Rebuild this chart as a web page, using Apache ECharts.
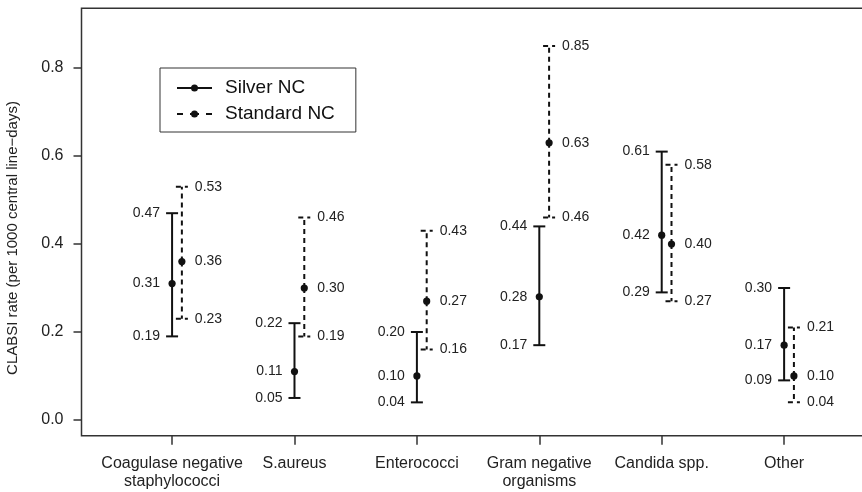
<!DOCTYPE html>
<html>
<head>
<meta charset="utf-8">
<script src="https://cdn.jsdelivr.net/npm/echarts@6/dist/echarts.min.js"></script>
<style>
html, body { margin: 0; padding: 0; background: #fff; }
#chart { width: 862px; height: 492px; }
</style>
</head>
<body>
<div id="chart"></div>
<script>
var categories = ['Coagulase negative\nstaphylococci', 'S.aureus', 'Enterococci', 'Gram negative\norganisms', 'Candida spp.', 'Other'];
var silverMean = [0.31, 0.11, 0.10, 0.28, 0.42, 0.17];
var silverLow = [0.19, 0.05, 0.04, 0.17, 0.29, 0.09];
var silverHigh = [0.47, 0.22, 0.20, 0.44, 0.61, 0.30];
var standardMean = [0.36, 0.30, 0.27, 0.63, 0.40, 0.10];
var standardLow = [0.23, 0.19, 0.16, 0.46, 0.27, 0.04];
var standardHigh = [0.53, 0.46, 0.43, 0.85, 0.58, 0.21];
var yTicks = [0, 0.2, 0.4, 0.6, 0.8];
var xTicks = [1, 2, 3, 4, 5, 6];

var offset = 0.08;
var ink = '#111';

function rows(mean, low, high, shift) {
    var out = [];
    for (var i = 0; i < mean.length; i++) {
        out.push([i + 1 + shift, mean[i], low[i], high[i]]);
    }
    return out;
}

function makeRender(dashed, labelSide) {
    return function (params, api) {
        var x = api.value(0);
        var m = api.coord([x, api.value(1)]);
        var lo = api.coord([x, api.value(2)]);
        var hi = api.coord([x, api.value(3)]);
        var st = { stroke: ink, lineWidth: 2, lineDash: dashed ? [5, 4] : null };
        var kids = [
            { type: 'line', shape: { x1: m[0], y1: m[1], x2: hi[0], y2: hi[1] }, style: st },
            { type: 'line', shape: { x1: m[0], y1: m[1], x2: lo[0], y2: lo[1] }, style: st },
            { type: 'line', shape: { x1: hi[0] - 6, y1: hi[1], x2: hi[0] + 6, y2: hi[1] }, style: st },
            { type: 'line', shape: { x1: lo[0] - 6, y1: lo[1], x2: lo[0] + 6, y2: lo[1] }, style: st },
            { type: 'circle', shape: { cx: m[0], cy: m[1], r: 3.6 }, style: { fill: ink } }
        ];
        var vals = [api.value(1), api.value(2), api.value(3)];
        var pts = [m, lo, hi];
        for (var k = 0; k < 3; k++) {
            kids.push({
                type: 'text',
                style: {
                    text: vals[k].toFixed(2),
                    x: pts[k][0] + (labelSide < 0 ? -12 : 13),
                    y: pts[k][1],
                    align: labelSide < 0 ? 'right' : 'left',
                    verticalAlign: 'middle',
                    fill: '#222',
                    font: '14px "Liberation Sans", Arial, sans-serif'
                }
            });
        }
        return { type: 'group', children: kids };
    };
}

var chart = echarts.init(document.getElementById('chart'));
var option = {
    animation: false,
    backgroundColor: '#fff',
    textStyle: { fontFamily: '"Liberation Sans", Arial, sans-serif' },
    grid: {
        left: 81.5, top: 8.2, right: -12.7, bottom: 56.2,
        containLabel: false,
        outerBoundsMode: 'none',
        show: true, borderColor: '#333', borderWidth: 1.5, backgroundColor: 'transparent'
    },
    legend: {
        orient: 'vertical',
        left: 160, top: 68,
        borderColor: '#333', borderWidth: 1,
        padding: [10, 21, 8, 17],
        itemGap: 6,
        itemWidth: 35, itemHeight: 7,
        textStyle: { fontSize: 19, lineHeight: 20, color: '#111', padding: [0, 0, 0, 8] },
        data: [
            { name: 'Silver NC', icon: 'path://M0,3h35v2H0zM14,4a3.5,3.5 0 1,1 7,0a3.5,3.5 0 1,1 -7,0z' },
            { name: 'Standard NC', icon: 'path://M0,3h6v2H0zM13,3h9v2h-9zM29,3h6v2h-6zM14,4a3.5,3.5 0 1,1 7,0a3.5,3.5 0 1,1 -7,0z' }
        ]
    },
    xAxis: {
        type: 'value',
        min: 0.26, max: 6.74,
        splitLine: { show: false },
        axisLine: { show: false, onZero: false },
        axisTick: { show: true, customValues: xTicks, length: 9, lineStyle: { color: '#333', width: 1.5 } },
        axisLabel: {
            customValues: xTicks,
            margin: 19,
            fontSize: 16, lineHeight: 18, color: '#222',
            formatter: function (v) { return categories[Math.round(v) - 1] || ''; }
        }
    },
    yAxis: {
        type: 'value',
        min: -0.036, max: 0.936,
        name: 'CLABSI rate (per 1000 central line\u2212days)',
        nameLocation: 'middle',
        nameGap: 61,
        nameRotate: 90,
        nameTextStyle: { fontSize: 15, color: '#222', padding: [0, 32, 0, 0] },
        splitLine: { show: false },
        axisLine: { show: false, onZero: false },
        axisTick: { show: true, customValues: yTicks, length: 8, lineStyle: { color: '#333', width: 1.5 } },
        axisLabel: {
            customValues: yTicks,
            margin: 18,
            fontSize: 16, color: '#222',
            formatter: function (v) { return v.toFixed(1); }
        }
    },
    series: [
        {
            name: 'Silver NC',
            type: 'custom',
            itemStyle: { color: ink },
            encode: { x: 0, y: 1 },
            renderItem: makeRender(false, -1),
            data: rows(silverMean, silverLow, silverHigh, 0)
        },
        {
            name: 'Standard NC',
            type: 'custom',
            itemStyle: { color: ink },
            encode: { x: 0, y: 1 },
            renderItem: makeRender(true, 1),
            data: rows(standardMean, standardLow, standardHigh, offset)
        }
    ]
};
chart.setOption(option);
window.onresize = chart.resize;
</script>
</body>
</html>
